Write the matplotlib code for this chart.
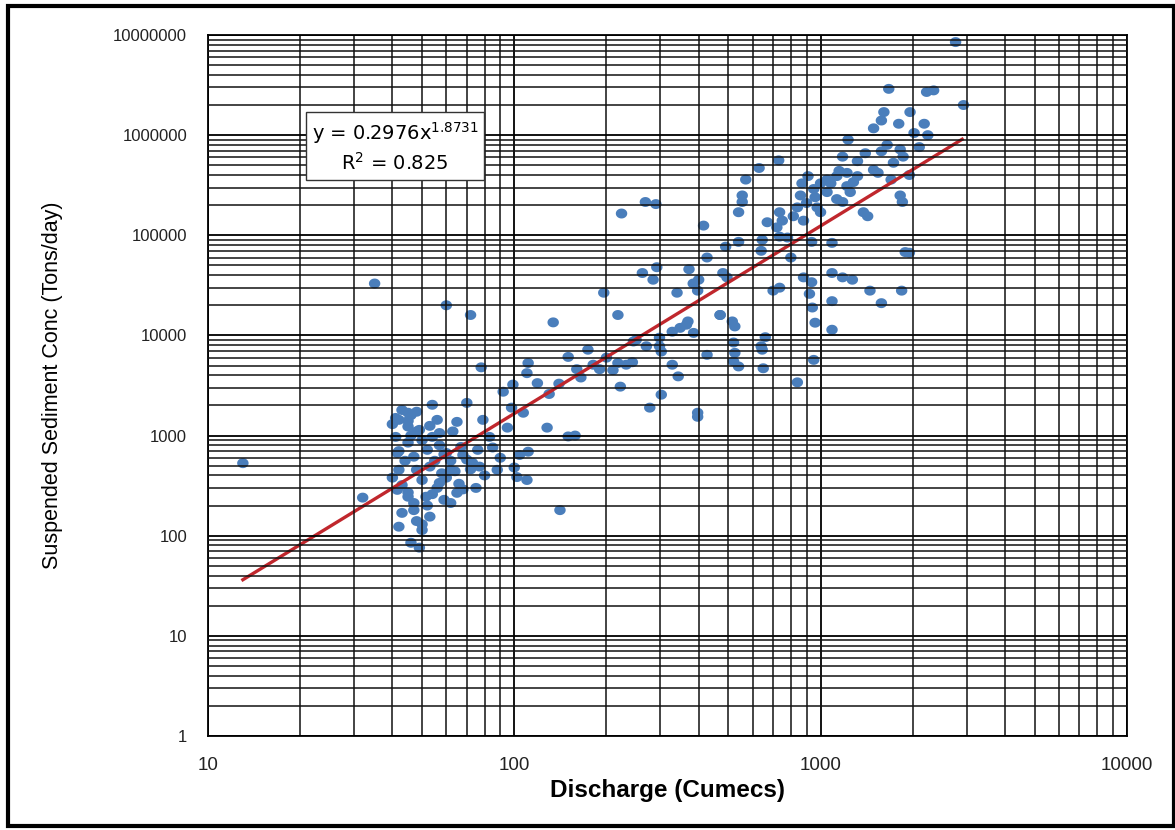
import numpy as np
import matplotlib
matplotlib.use("Agg")
import matplotlib.pyplot as plt
from matplotlib.ticker import FixedLocator, LogLocator, NullFormatter, FuncFormatter
from matplotlib.patches import Rectangle

# discharge (cumecs) and suspended sediment (tons/day)
discharge = [
    13, 32, 35, 60, 72, 134, 78,
    42, 45, 48, 54, 56, 70, 65, 79, 95, 99, 119, 128, 85, 104, 111, 102, 110,
    88, 73, 77, 62, 65, 62, 59, 53, 50, 46, 49, 42, 43, 41.5, 42, 41.5, 41,
    45, 47, 48, 50, 53, 54, 57, 49, 45, 47, 51.5, 45, 57, 70, 67, 60, 76, 83,
    92, 141,
    40, 41, 43, 45, 46, 42, 44, 40, 43, 45, 47, 48, 50, 52, 54, 56, 58, 60,
    55, 52, 50, 48, 46, 53, 57, 59, 62, 64, 66, 68, 72, 63, 68, 75, 80, 90, 100,
    111, 110, 98, 107, 150, 158, 150, 174, 196, 218, 160, 181, 190, 222, 218,
    232, 243, 245, 270, 298, 298, 302, 328, 348, 369, 385, 328, 343, 302, 277,
    397, 397, 426, 470, 262, 292, 284, 340, 372, 384, 397, 426, 495,
    130, 140, 165, 200, 210, 250,
    224, 268, 290, 2760, 2930,
    1670, 2220, 2340, 1610, 1580, 1490, 1960, 1800, 2180, 2240, 2020, 1230,
    1580, 1820, 1860, 1730, 1490, 1540, 1180, 1320, 1220, 1130, 1320, 1080,
    1220, 1000, 910, 950, 1050, 1130, 1180, 1250, 860, 900, 975, 1000, 840,
    815, 880, 735, 750, 720, 670, 730, 630, 570, 555, 555, 540, 415, 540, 490,
    645, 735, 780, 935, 1090, 1380, 1425, 1820, 1850, 1950, 1890, 640, 800,
    480, 400, 880, 935, 1090, 1180, 1270, 1450, 1580, 1840, 700, 735, 920,
    1090, 940, 960, 1090, 470, 515, 525, 365, 660, 640, 645, 520, 525, 520,
    540, 650, 950, 840,
    1050, 1150, 1280, 1400, 960, 870, 1650, 1700, 1950, 2100,
]
sediment = [
    530, 240, 33000, 20000, 16000, 13500, 4800,
    1435, 1690, 1730, 2030, 1435, 2120, 1370, 1435, 1200, 3230, 3340, 1200,
    760, 640, 690, 385, 360, 455, 535, 490, 455, 268, 212, 228, 155, 114, 85,
    76, 123, 169, 287, 455, 670, 970, 850, 615, 455, 360, 490, 970, 1060,
    1140, 1230, 212, 245, 245, 337, 575, 770, 670, 720, 970, 2740, 180,
    1300, 1500, 1800, 1400, 1000, 700, 560, 380, 320, 270, 180, 140, 130,
    200, 260, 300, 420, 380, 560, 720, 900, 1100, 1600, 1250, 800, 650, 560,
    440, 330, 290, 460, 1100, 640, 300, 400, 600, 480,
    5300, 4200, 1900, 1690, 980, 1000, 6100, 7200, 26700, 16000, 4600, 5100,
    4600, 3080, 5300, 5100, 5400, 8700, 7800, 9500, 7800, 6900, 10900, 11900,
    13800, 10600, 5100, 3900, 2560, 1900, 1690, 1540, 6400, 16000, 42000,
    48000, 36000, 26700, 45800, 33000, 28000, 60000, 38000,
    2600, 3300, 3800, 6000, 4500, 9000,
    165000, 215000, 205000, 8.5e6, 2.0e6,
    2.9e6, 2.7e6, 2.8e6, 1.7e6, 1.4e6, 1.17e6, 1.7e6, 1.3e6, 1.3e6, 1.0e6,
    1.05e6, 9.0e5, 6.9e5, 7.2e5, 6.1e5, 5.3e5, 4.5e5, 4.2e5, 6.1e5, 5.5e5,
    4.2e5, 3.9e5, 3.9e5, 3.3e5, 3.1e5, 3.3e5, 3.9e5, 2.9e5, 2.7e5, 2.3e5,
    2.15e5, 2.7e5, 2.5e5, 2.1e5, 1.9e5, 1.7e5, 1.9e5, 1.55e5, 1.4e5, 1.7e5,
    1.4e5, 1.2e5, 1.35e5, 5.6e5, 4.7e5, 3.6e5, 2.5e5, 2.15e5, 1.7e5, 1.25e5,
    86000, 77000, 90000, 97000, 95000, 86000, 84000, 1.7e5, 1.55e5, 2.5e5,
    2.15e5, 67000, 68000, 70000, 60000,
    42000, 36000, 38000, 34000, 42000, 38000, 36000, 28000, 21000, 28000,
    28000, 30000, 26000, 22000, 19000, 13400, 11400, 16000, 13800, 12300,
    12800, 9600, 7800, 7200, 8500, 6700, 5500, 4900, 4700, 5700, 3400,
    3.6e5, 4.4e5, 3.4e5, 6.6e5, 2.4e5, 3.3e5, 8.0e5, 3.6e5, 4.0e5, 7.6e5,
]

# power trendline reported on the chart
fit_a = 0.2976
fit_b = 1.8731
fit_r2 = 0.825
fit_range = (13, 2900)

x_ticks = [10, 100, 1000, 10000]
y_ticks = [1, 10, 100, 1000, 10000, 100000, 1000000, 10000000]

plt.rcParams['font.family'] = ['Liberation Sans', 'DejaVu Sans']

fig = plt.figure(figsize=(11.75, 8.3), dpi=100)
ax = fig.add_axes([0.177, 0.1133, 0.782, 0.8445])

# slightly wide ellipse marker, like the stretched excel dots
t = np.linspace(0, 2 * np.pi, 40)
ell = np.column_stack([1.15 * np.cos(t), np.sin(t)])
ax.scatter(discharge, sediment, s=68, marker=ell, color='#4a7ebb',
           edgecolors='none', zorder=1)

xf = np.geomspace(fit_range[0], fit_range[1], 60)
ax.plot(xf, fit_a * xf ** fit_b, color='#c0272d', lw=2.4, zorder=2)

ax.set_xscale('log')
ax.set_yscale('log')
ax.set_xlim(10, 10000)
ax.set_ylim(1, 1e7)

ax.xaxis.set_major_locator(FixedLocator(x_ticks))
ax.yaxis.set_major_locator(FixedLocator(y_ticks))
ax.xaxis.set_minor_locator(LogLocator(base=10, subs=np.arange(2, 10)))
ax.yaxis.set_minor_locator(LogLocator(base=10, subs=np.arange(2, 10), numticks=20))
ax.xaxis.set_minor_formatter(NullFormatter())
ax.yaxis.set_minor_formatter(NullFormatter())
fmt = FuncFormatter(lambda v, p: f"{int(round(v))}")
ax.xaxis.set_major_formatter(fmt)
ax.yaxis.set_major_formatter(fmt)

ax.set_axisbelow(False)
ax.grid(which='major', color='black', lw=1.3)
ax.grid(which='minor', color='#111111', lw=1.1)
ax.tick_params(which='both', length=0, colors='#222222')
ax.tick_params(axis='x', pad=15, labelsize=13.5)
ax.tick_params(axis='y', pad=15, labelsize=12)
for s in ax.spines.values():
    s.set_color('black')
    s.set_linewidth(1.3)

ax.set_xlabel('Discharge (Cumecs)', fontsize=17.5, fontweight='bold')
ax.xaxis.set_label_coords(0.5, -0.062)
ax.set_ylabel('Suspended Sediment Conc (Tons/day)', fontsize=15.5)
ax.yaxis.set_label_coords(-0.158, 0.5)

ax.text(0.2035, 0.84, f"y = {fit_a}x$^{{{fit_b}}}$\nR$^2$ = {fit_r2}",
        transform=ax.transAxes, ha='center', va='center', fontsize=14,
        family='DejaVu Sans', linespacing=1.35, zorder=5,
        bbox=dict(boxstyle='square,pad=0.3', facecolor='white', edgecolor='#333333', lw=1))

fig.patches.append(Rectangle((0.007, 0.005), 0.992, 0.988, transform=fig.transFigure,
                             fill=False, edgecolor='black', lw=3))

fig.savefig('out.png', dpi=100)
